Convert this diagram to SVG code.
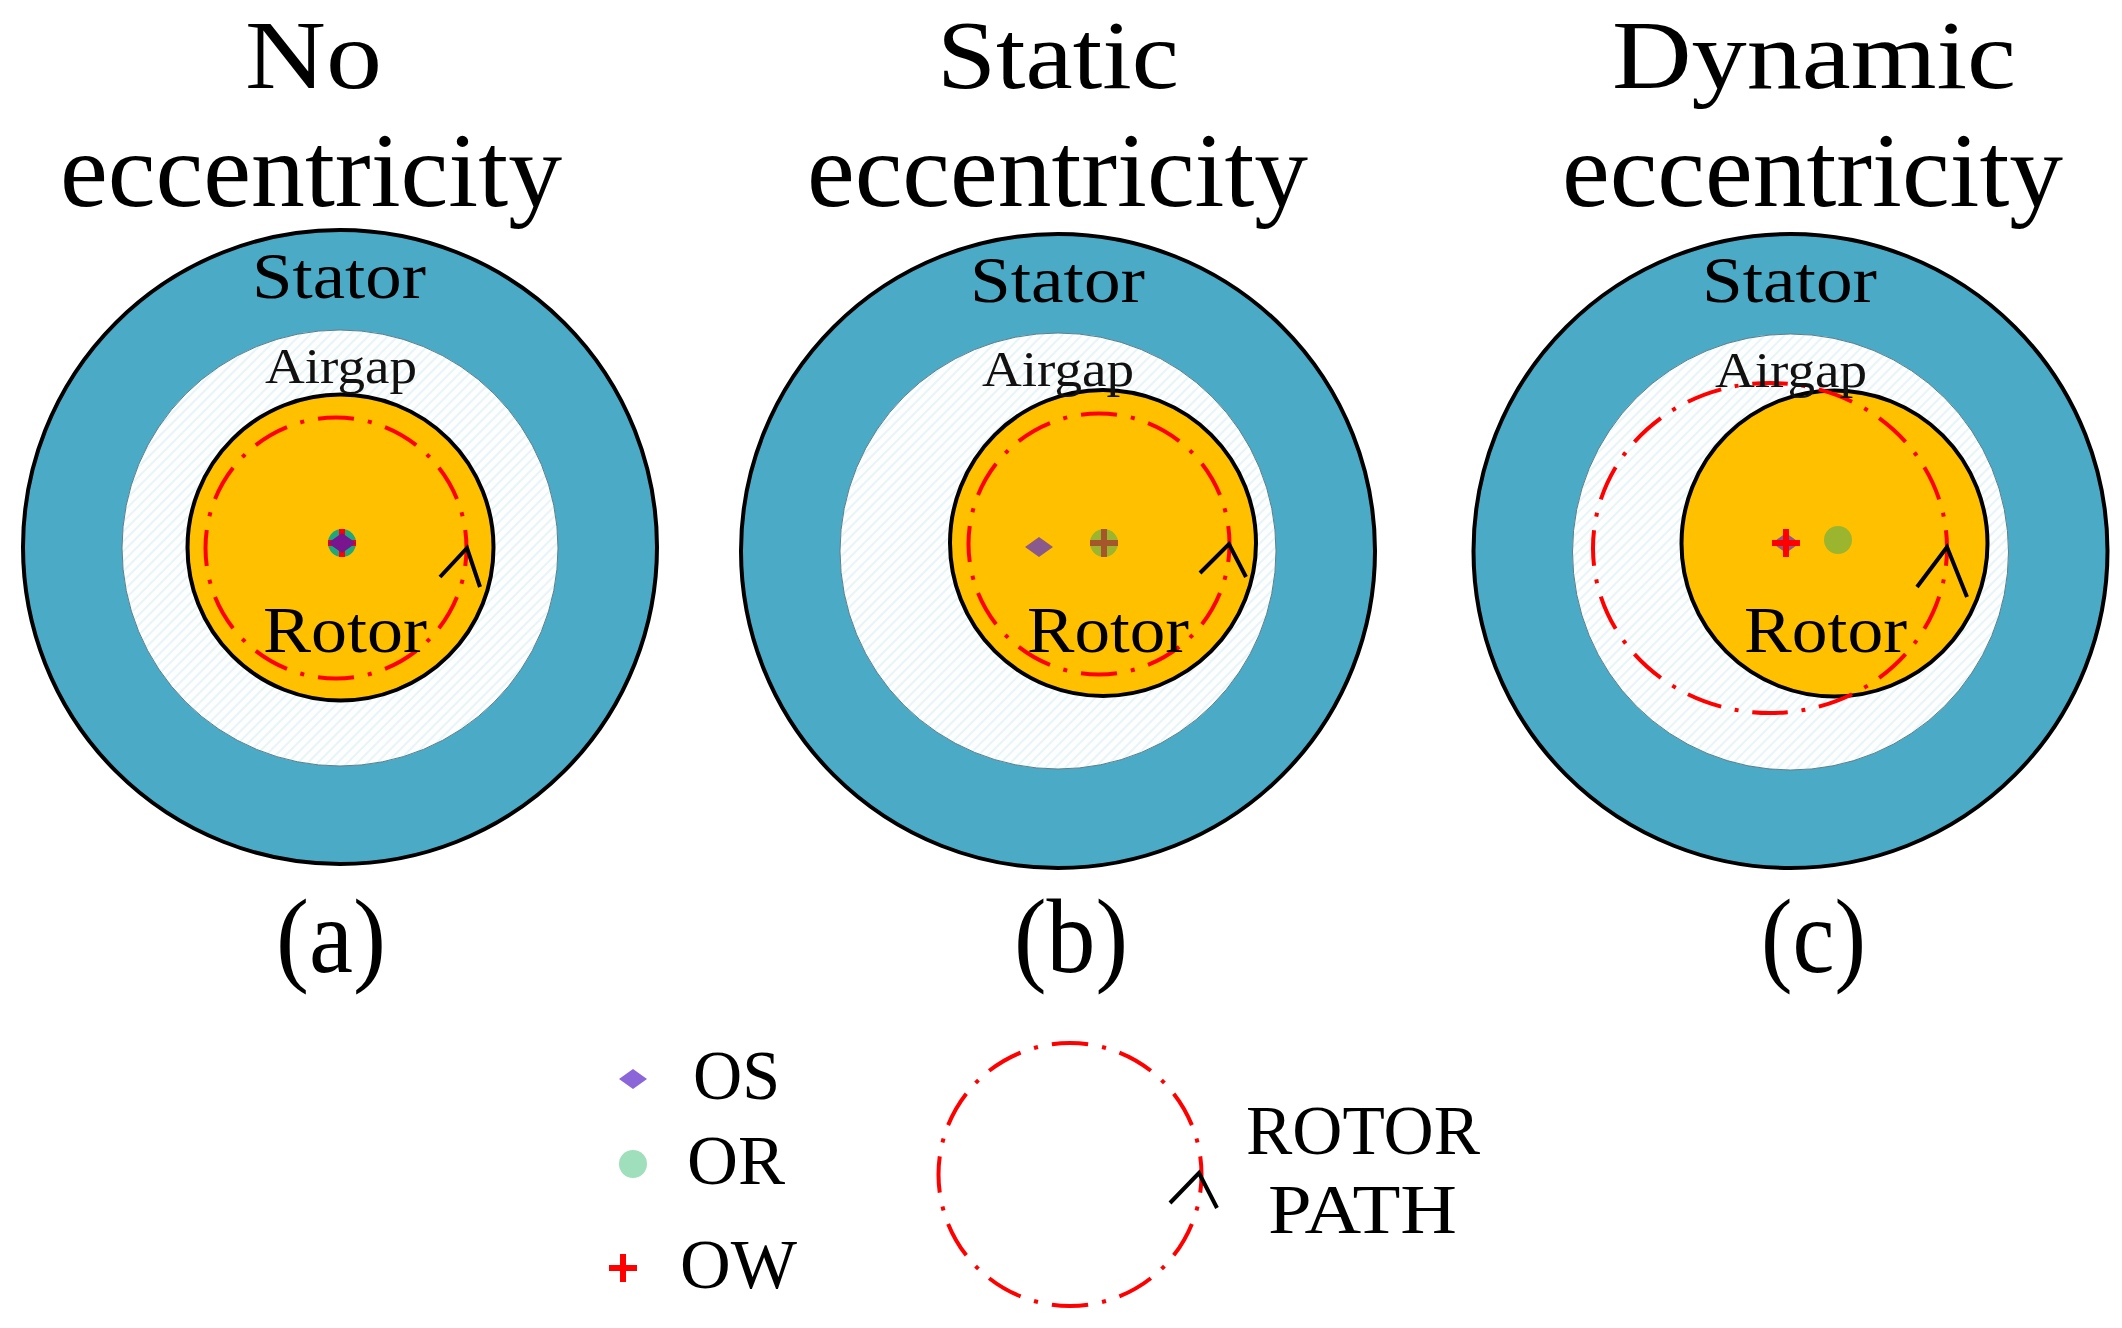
<svg xmlns="http://www.w3.org/2000/svg" width="2122" height="1328" viewBox="0 0 2122 1328">
<style>
text{font-family:"Liberation Serif","Times New Roman",serif;fill:#000}
.title{font-size:106px}
.top{font-size:98px}
.lab{font-size:66px}
.air{font-size:51px;fill:#111}
.leg{font-size:70px}
.stator{fill:#4babc6;stroke:#000;stroke-width:4}
.gap{fill:url(#hatch);stroke:#5a7f8c;stroke-width:1}
.rotor{fill:#ffc000;stroke:#000;stroke-width:4}
.path{fill:none;stroke:#f00;stroke-width:4;stroke-dasharray:36 14 4 14;stroke-dashoffset:18}
.arrow{fill:none;stroke:#000;stroke-width:4}
.cross{fill:none;stroke:#f00;stroke-width:6}
</style>
<defs>
<pattern id="hatch" width="7" height="7" patternUnits="userSpaceOnUse" patternTransform="rotate(-45)">
<rect width="7" height="7" fill="#fdfefe"/><rect width="7" height="2" fill="#e9f4f7"/>
</pattern>
</defs>
<rect width="2122" height="1328" fill="#fff"/>

<g id="panel-a">
<circle class="stator" cx="340" cy="547" r="317"/>
<circle class="gap" cx="340" cy="548" r="218"/>
<circle class="rotor" cx="340.5" cy="547.5" r="153"/>
<ellipse class="path" cx="336" cy="548" rx="130.5" ry="130.5" pathLength="816"/>
<circle cx="342" cy="543" r="14" fill="#1fa87a"/>
<path d="M342 529V557M328 543H356" class="cross"/>
<path d="M328 543L342 533L356 543L342 553Z" fill="#7a1590"/>
<path d="M440 577L467 548L480 587" class="arrow"/>
<text class="lab" x="252" y="298" textLength="174" lengthAdjust="spacingAndGlyphs">Stator</text>
<text class="air" x="265" y="383" textLength="152" lengthAdjust="spacingAndGlyphs">Airgap</text>
<text class="lab" x="263" y="652" textLength="164" lengthAdjust="spacingAndGlyphs">Rotor</text>
<text class="top" x="245" y="88" textLength="137" lengthAdjust="spacingAndGlyphs">No</text>
<text class="title" x="60" y="206" textLength="502" lengthAdjust="spacingAndGlyphs">eccentricity</text>
<text class="title" x="276" y="972" textLength="110" lengthAdjust="spacingAndGlyphs">(a)</text>
</g>

<g id="panel-b">
<circle class="stator" cx="1058" cy="551" r="317"/>
<circle class="gap" cx="1058" cy="551" r="218"/>
<circle class="rotor" cx="1103" cy="543" r="153"/>
<ellipse class="path" cx="1099" cy="544" rx="130.5" ry="130.5" pathLength="816"/>
<circle cx="1104" cy="543" r="14" fill="#9cb52e"/>
<path d="M1104 529V557M1090 543H1118" fill="none" stroke="#a5562b" stroke-width="6"/>
<path d="M1025 547L1039 537L1053 547L1039 557Z" fill="#8b5a8c"/>
<path d="M1200 573L1229 544L1246 577" class="arrow"/>
<text class="lab" x="970" y="302" textLength="175" lengthAdjust="spacingAndGlyphs">Stator</text>
<text class="air" x="982" y="386" textLength="152" lengthAdjust="spacingAndGlyphs">Airgap</text>
<text class="lab" x="1027" y="652" textLength="162" lengthAdjust="spacingAndGlyphs">Rotor</text>
<text class="top" x="937" y="88" textLength="242" lengthAdjust="spacingAndGlyphs">Static</text>
<text class="title" x="807" y="206" textLength="501" lengthAdjust="spacingAndGlyphs">eccentricity</text>
<text class="title" x="1014" y="972" textLength="114" lengthAdjust="spacingAndGlyphs">(b)</text>
</g>

<g id="panel-c">
<circle class="stator" cx="1790.5" cy="551" r="317"/>
<circle class="gap" cx="1790.5" cy="552" r="218"/>
<circle class="rotor" cx="1834.5" cy="543.5" r="153"/>
<ellipse class="path" cx="1770" cy="548" rx="177" ry="165" pathLength="1088"/>
<circle cx="1838" cy="540" r="14" fill="#9cb52e"/>
<path d="M1772 543L1786 533L1800 543L1786 553Z" fill="#8b5a8c"/>
<path d="M1786 529V557M1772 543H1800" class="cross"/>
<path d="M1917 587L1947 547L1967 597" class="arrow"/>
<text class="lab" x="1702" y="302" textLength="175" lengthAdjust="spacingAndGlyphs">Stator</text>
<text class="air" x="1715" y="387" textLength="152" lengthAdjust="spacingAndGlyphs">Airgap</text>
<text class="lab" x="1744" y="652" textLength="163" lengthAdjust="spacingAndGlyphs">Rotor</text>
<text class="top" x="1612" y="88" textLength="404" lengthAdjust="spacingAndGlyphs">Dynamic</text>
<text class="title" x="1562" y="206" textLength="501" lengthAdjust="spacingAndGlyphs">eccentricity</text>
<text class="title" x="1761" y="972" textLength="105" lengthAdjust="spacingAndGlyphs">(c)</text>
</g>

<g id="legend">
<path d="M619 1079L633 1069L647 1079L633 1089Z" fill="#8b66d9"/>
<circle cx="633" cy="1164" r="14" fill="#a0dfbc"/>
<path d="M623 1254V1282M609 1268H637" class="cross"/>
<text class="leg" x="693" y="1099" textLength="87" lengthAdjust="spacingAndGlyphs">OS</text>
<text class="leg" x="687" y="1184" textLength="98" lengthAdjust="spacingAndGlyphs">OR</text>
<text class="leg" x="680" y="1288" textLength="117" lengthAdjust="spacingAndGlyphs">OW</text>
</g>

<g id="rotor-path-key">
<ellipse class="path" cx="1070" cy="1174.5" rx="131.5" ry="131.5" pathLength="816"/>
<path d="M1170 1203L1199 1173L1217 1208" class="arrow"/>
<text class="leg" x="1246" y="1154" textLength="234" lengthAdjust="spacingAndGlyphs">ROTOR</text>
<text class="leg" x="1268" y="1233" textLength="189" lengthAdjust="spacingAndGlyphs">PATH</text>
</g>
</svg>
